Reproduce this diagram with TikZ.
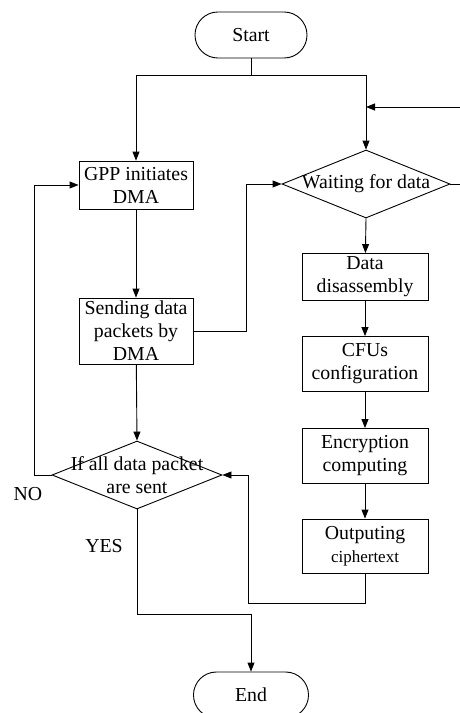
\documentclass[tikz,border=0pt]{standalone}
\usepackage{fontspec}
\setmainfont{Liberation Serif}
\usetikzlibrary{shapes.geometric,arrows.meta}

\newcommand\flowtextstyle{\fontsize{19.8}{23}\selectfont}
\newcommand\flowsmallstyle{\fontsize{17}{20}\selectfont}
\tikzset{
  flowline/.style={line width=0.9pt},
  flowarrow/.style={flowline, -{Triangle[length=9pt,width=7pt]}},
  terminal/.style={draw, flowline, rectangle, rounded corners=22.9pt, minimum height=46pt, font=\flowtextstyle},
  process/.style={draw, flowline, rectangle, align=center, inner sep=0pt, font=\flowtextstyle},
  decision/.style={draw, flowline, diamond, inner sep=0pt, minimum width=170pt, minimum height=68pt},
  decisiontext/.style={align=center, font=\flowtextstyle},
}

\begin{document}
\begin{tikzpicture}[x=1pt,y=-1pt]
  \useasboundingbox (0,0) rectangle (460,713);

  \node[terminal, minimum width=112pt] (start) at (251,35) {Start};
  \node[process, minimum width=114pt, minimum height=48pt] (gpp) at (136,185) {GPP initiates\\DMA};
  \node[process, minimum width=114pt, minimum height=66pt] (send) at (136,331) {Sending data\\packets by\\DMA};
  \node[decision, label={[decisiontext]center:If all data packet\\are sent}] (check) at (137,475) {};
  \node[decision, minimum width=168pt, label={[decisiontext]center:Waiting for data}] (wait) at (366,184) {};
  \node[process, minimum width=126pt, minimum height=47pt] (split) at (365,277) {Data\\disassembly};
  \node[process, minimum width=126pt, minimum height=55pt] (config) at (365,364) {CFUs\\configuration};
  \node[process, minimum width=126pt, minimum height=55pt] (encrypt) at (365,456) {Encryption\\computing};
  \node[process, minimum width=126pt, minimum height=54pt] (output) at (365,546) {Outputing\\{\flowsmallstyle ciphertext}};
  \node[terminal, minimum width=115pt] (end) at (251,695) {End};

  \node[font=\flowtextstyle] (no) at (28,494) {NO};
  \node[font=\flowtextstyle] (yes) at (104,546) {YES};

  \coordinate (fork) at (251,75);
  \coordinate (loopin) at (460,107);
  \coordinate (loopout) at (460,184);
  \coordinate (back) at (248,603);
  \coordinate (yesturn) at (137,614);

  \draw[flowline] (start.south) -- (fork);
  \draw[flowarrow] (fork) -| (gpp.north);
  \draw[flowarrow] (fork) -| (wait.north);
  \draw[flowline] (wait.east) -- (loopout);
  \draw[flowarrow] (loopin) -- (loopin -| wait.north);

  \draw[flowarrow] (gpp) -- (send);
  \draw[flowarrow] (send.east) -- ++(53,0) |- (wait.west);
  \draw[flowarrow] (send) -- (check.north);
  \draw[flowarrow] (check.west) -- ++(-17,0) |- (gpp.west);

  \draw[flowarrow] (wait.south) -- (split);
  \draw[flowarrow] (split) -- (config);
  \draw[flowarrow] (config) -- (encrypt);
  \draw[flowarrow] (encrypt) -- (output);
  \draw[flowarrow] (output.south) |- (back) |- (check.east);

  \draw[flowarrow] (check.south) -- (yesturn) -| (end.north);
\end{tikzpicture}
\end{document}
